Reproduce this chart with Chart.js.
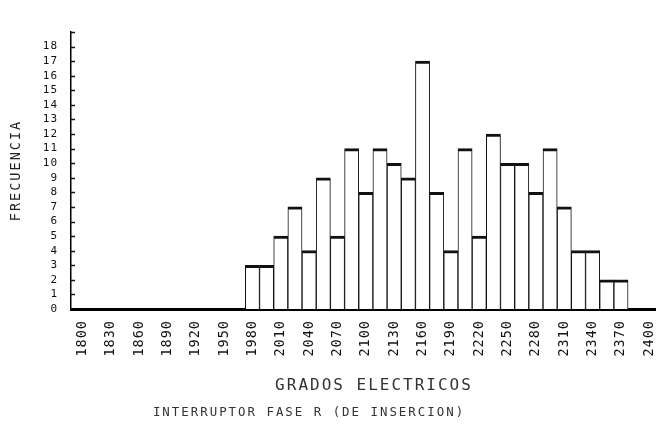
<!DOCTYPE html>
<html>
<head>
<meta charset="utf-8">
<script src="https://cdn.jsdelivr.net/npm/chart.js@4/dist/chart.umd.min.js"></script>
<style>
html,body{margin:0;padding:0;background:#fff;}
canvas{display:block;}
</style>
</head>
<body>
<canvas id="c" width="664" height="431"></canvas>
<script>
// ---- data ----
const binCenters = [1980,1995,2010,2025,2040,2055,2070,2085,2100,2115,2130,2145,2160,2175,2190,2205,2220,2235,2250,2265,2280,2295,2310,2325,2340,2355,2370];
const frequencies = [3,3,5,7,4,9,5,11,8,11,10,9,17,8,4,11,5,12,10,10,8,11,7,4,4,2,2];
const xTickValues = [1800,1830,1860,1890,1920,1950,1980,2010,2040,2070,2100,2130,2160,2190,2220,2250,2280,2310,2340,2370,2400];
const yTickValues = [0,1,2,3,4,5,6,7,8,9,10,11,12,13,14,15,16,17,18,19];
const yTickLabels = ['0','1','2','3','4','5','6','7','8','9','10','11','12','13','14','15','16','17','18',''];
const xTitle = 'GRADOS ELECTRICOS';
const yTitle = 'FRECUENCIA';
const chartTitle = 'INTERRUPTOR FASE R (DE INSERCION)';

const MONO = "'DejaVu Sans Mono', 'Liberation Mono', monospace";

const plotterPlugin = {
  id: 'plotter',
  beforeLayout(chart) { chart.ctx.letterSpacing = '1px'; },
  afterLayout(chart) {
    // centre the caption where the reference has it
    if (chart.titleBlock) { chart.titleBlock.right = chart.titleBlock.left + 618; }
    const sx = chart.scales.x;
    if (sx && !sx._shiftedTitle) {
      const orig = sx.drawTitle;
      sx.drawTitle = function () {
        this.ctx.save();
        this.ctx.translate(11, 0);
        orig.call(this);
        this.ctx.restore();
      };
      sx._shiftedTitle = true;
    }
  },
  beforeDraw(chart) { chart.ctx.letterSpacing = '2px'; },
  afterDatasetsDraw(chart) { chart.ctx.letterSpacing = '1px'; },
  afterDraw(chart) {
    const ctx = chart.ctx;
    const ys = chart.scales.y;
    const left = chart.chartArea.left;
    ctx.save();
    ctx.strokeStyle = '#111';
    ctx.lineWidth = 1.5;
    ys.ticks.forEach(t => {
      if (t.value <= 0) return;
      const py = Math.round(ys.getPixelForValue(t.value)) + 0.5;
      ctx.beginPath();
      ctx.moveTo(left, py);
      ctx.lineTo(left + 4, py);
      ctx.stroke();
    });
    ctx.restore();
    ctx.letterSpacing = '0px';
  }
};

new Chart(document.getElementById('c'), {
  type: 'bar',
  data: {
    datasets: [{
      data: binCenters.map((x, i) => ({ x: x, y: frequencies[i] })),
      backgroundColor: '#ffffff',
      borderColor: '#111111',
      borderWidth: { top: 3, left: 1, right: 1, bottom: 0 },
      borderSkipped: false,
      barPercentage: 1.0,
      categoryPercentage: 1.0
    }]
  },
  options: {
    responsive: false,
    animation: false,
    devicePixelRatio: 1,
    layout: { padding: { left: 0, right: 9, top: 32, bottom: 0 } },
    plugins: {
      legend: { display: false },
      tooltip: { enabled: false },
      title: {
        display: true,
        text: chartTitle,
        position: 'bottom',
        color: '#333',
        font: { family: MONO, size: 12.4, weight: 'normal', lineHeight: 1 },
        padding: { top: 0, bottom: 12 }
      }
    },
    scales: {
      x: {
        type: 'linear',
        min: 1788,
        max: 2406,
        offset: false,
        grid: { display: false, drawTicks: false },
        border: { display: true, color: '#000', width: 3 },
        afterBuildTicks: (s) => { s.ticks = xTickValues.map(v => ({ value: v })); },
        afterFit: (s) => { s.height = 97.6; s.paddingLeft = 0; s.paddingRight = 0; },
        ticks: {
          z: 1,
          autoSkip: false,
          minRotation: 90,
          maxRotation: 90,
          padding: 11,
          color: '#111',
          font: { family: MONO, size: 13.5, lineHeight: 1 },
          callback: (v) => String(v)
        },
        title: {
          display: true,
          text: xTitle,
          color: '#333',
          font: { family: MONO, size: 16, lineHeight: 1 },
          padding: { top: 0, bottom: 12.6 }
        }
      },
      y: {
        type: 'linear',
        min: 0,
        max: 19,
        grid: { display: false, drawTicks: false },
        border: { display: true, color: '#000', width: 1.5 },
        afterBuildTicks: (s) => { s.ticks = yTickValues.map(v => ({ value: v })); },
        afterFit: (s) => { s.width = 71; s.paddingTop = 0; s.paddingBottom = 0; },
        ticks: {
          z: 1,
          autoSkip: false,
          padding: 13,
          color: '#111',
          font: { family: MONO, size: 11, lineHeight: 1 },
          callback: (v, i) => yTickLabels[i]
        },
        title: {
          display: true,
          text: yTitle,
          color: '#222',
          font: { family: MONO, size: 13.5, lineHeight: 1 },
          padding: { top: 10, bottom: 0 }
        }
      }
    }
  },
  plugins: [plotterPlugin]
});
</script>
</body>
</html>
